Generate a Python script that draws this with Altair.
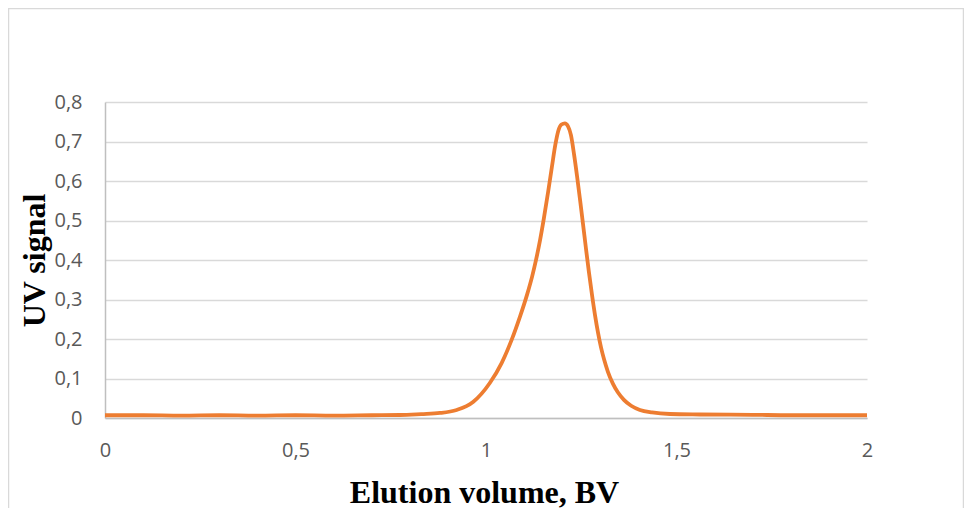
import altair as alt
import pandas as pd

# Elution volume (BV) and UV signal
elution_volume = [0.0, 0.1, 0.2, 0.3, 0.4, 0.5, 0.6, 0.7, 0.774, 0.83, 0.879, 0.923,
                  0.966, 1.010, 1.041, 1.067, 1.089, 1.108, 1.121, 1.131, 1.142, 1.152,
                  1.163, 1.173, 1.182, 1.190, 1.198, 1.207, 1.215, 1.223, 1.231, 1.239,
                  1.247, 1.255, 1.262, 1.270, 1.278, 1.286, 1.294, 1.302, 1.310, 1.320,
                  1.333, 1.346, 1.362, 1.381, 1.404, 1.436, 1.483, 1.562, 1.7, 1.8,
                  1.9, 2.0]
uv_signal = [0.007, 0.007, 0.006, 0.007, 0.006, 0.007, 0.006, 0.007, 0.0076, 0.010, 0.0127, 0.0203,
             0.0405, 0.0886, 0.139, 0.197, 0.256, 0.313, 0.358, 0.399, 0.451, 0.506,
             0.572, 0.636, 0.692, 0.728, 0.743, 0.746, 0.739, 0.716, 0.668, 0.612,
             0.551, 0.488, 0.432, 0.370, 0.313, 0.261, 0.216, 0.178, 0.148, 0.117,
             0.087, 0.065, 0.046, 0.031, 0.0204, 0.014, 0.0101, 0.0089, 0.008, 0.007,
             0.007, 0.007]

x_ticks = [0, 0.5, 1, 1.5, 2]
y_ticks = [0, 0.1, 0.2, 0.3, 0.4, 0.5, 0.6, 0.7, 0.8]

x_title = "Elution volume, BV"
y_title = "UV signal"

df = pd.DataFrame({"x": elution_volume, "y": uv_signal})

label_expr = "replace(format(datum.value, '.1~f'), '.', ',')"

line = alt.Chart(df).mark_line(
    color="#ED7D31", strokeWidth=3.8, interpolate="monotone"
).encode(
    x=alt.X("x:Q", scale=alt.Scale(domain=[0, 2], nice=False),
            axis=alt.Axis(values=x_ticks, labelExpr=label_expr, grid=False,
                          ticks=False, tickSize=0, labelPadding=22, labelFlush=False,
                          domainColor="#bfbfbf", domainWidth=1.5,
                          labelFont="Open Sans", labelFontSize=20, labelColor="#595959",
                          title=x_title, titleFont="Liberation Serif", titleFontSize=32,
                          titleFontWeight="bold", titleColor="#000000",
                          titleBaseline="alphabetic", titleX=379, titleY=84)),
    y=alt.Y("y:Q", scale=alt.Scale(domain=[0, 0.8], nice=False),
            axis=alt.Axis(values=y_ticks, labelExpr=label_expr, grid=True,
                          gridColor="#d9d9d9", gridWidth=1.5,
                          ticks=False, tickSize=0, labelPadding=23, labelFlush=False,
                          domainColor="#bfbfbf", domainWidth=1.5,
                          labelFont="Open Sans", labelFontSize=20, labelColor="#595959",
                          title=y_title, titleFont="Liberation Serif", titleFontSize=32,
                          titleFontWeight="bold", titleColor="#000000",
                          titleAngle=270, titleBaseline="alphabetic",
                          titleX=-61, titleY=158)),
)

border = alt.Chart(pd.DataFrame({"a": [0]})).mark_rect(
    fill="transparent", stroke="#d9d9d9", strokeWidth=1.5
).encode(
    x=alt.value(-96.5), x2=alt.value(858.5),
    y=alt.value(-93.5), y2=alt.value(520),
)

chart = alt.layer(border, line).properties(
    width=762, height=316,
    padding={"left": 97, "top": 94, "right": 97, "bottom": 90},
    autosize=alt.AutoSizeParams(type="none"),
).configure_view(strokeWidth=0)

chart.save("out.html", embed_options={"renderer": "svg", "actions": False})
